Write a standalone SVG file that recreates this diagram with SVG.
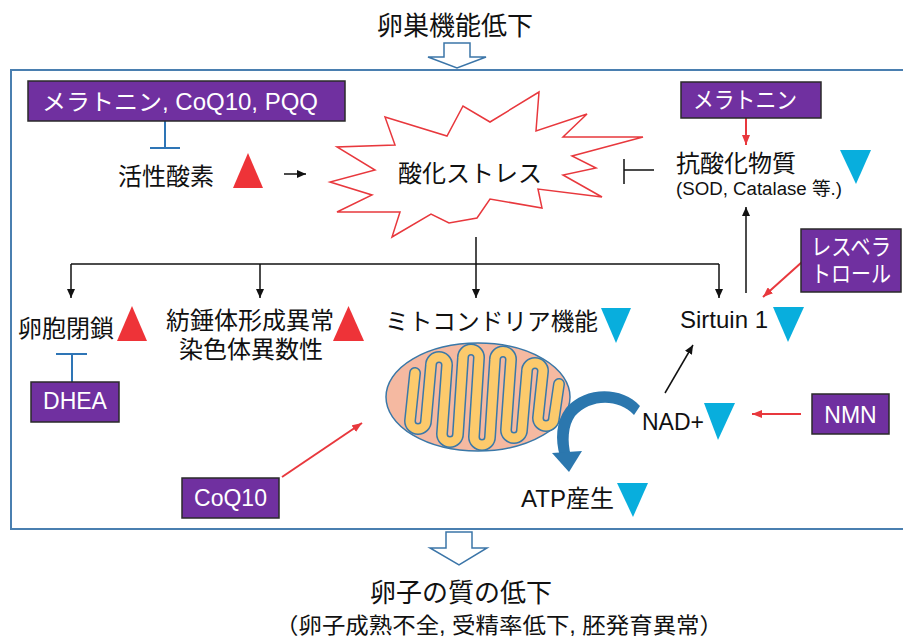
<svg xmlns="http://www.w3.org/2000/svg" width="903" height="639" viewBox="0 0 903 639">
  <style>
    text { font-family: "Liberation Sans", "Noto Sans CJK JP", sans-serif; fill: #111; }
    .jp { font-size: 24px; }
    .title { font-size: 26px; }
    .box { fill: #7030a0; stroke: #2a2a2a; stroke-width: 1.5; }
    .boxtext { fill: #ffffff; font-size: 23px; }
    .up { fill: #ee3338; }
    .down { fill: #08aedd; }
    .blk { stroke: #111; stroke-width: 1.5; fill: none; }
    .red { stroke: #e8383d; stroke-width: 2; fill: none; }
    .inh { stroke: #2e75b6; stroke-width: 2; fill: none; }
    .hollow { fill: #ffffff; stroke: #3b75a8; stroke-width: 1.5; }
    .cristae { fill: none; stroke-linejoin: round; stroke-linecap: round; }
  </style>
  <defs>
    <marker id="ahBlack" markerUnits="userSpaceOnUse" markerWidth="9" markerHeight="8" refX="9" refY="4" orient="auto">
      <path d="M0,0 L9,4 L0,8 z" fill="#111"/>
    </marker>
    <marker id="ahRed" markerUnits="userSpaceOnUse" markerWidth="10" markerHeight="8" refX="10" refY="4" orient="auto">
      <path d="M0,0 L10,4 L0,8 z" fill="#e8383d"/>
    </marker>
    <!-- folded inner membrane of the mitochondrion -->
    <path id="cristaePath" d="M415,373 L410,421 A8,8 0 0 0 426,421 L431,365 A8,8 0 0 1 447,365 L442,434 A8,8 0 0 0 458,434 L463,357.5 A8,8 0 0 1 479,357.5 L474,437 A8,8 0 0 0 490,437 L495,359.5 A8,8 0 0 1 511,359.5 L506,430 A8,8 0 0 0 522,430 L527,371 A8,8 0 0 1 543,371 L538,418 A8,8 0 0 0 554,418 L559,384"/>
  </defs>

  <rect width="903" height="639" fill="#ffffff"/>

  <!-- outer frame -->
  <rect x="11" y="70" width="900" height="459" fill="none" stroke="#4a7fb0" stroke-width="2"/>

  <!-- headline and outcome -->
  <g id="title-top">
    <text class="title" x="455" y="35" text-anchor="middle">卵巣機能低下</text>
    <path class="hollow" d="M444,43 H470 V57 H486 L457,68 L428,57 H444 Z"/>
  </g>
  <g id="title-bottom">
    <path class="hollow" d="M446,532 H472 V548 H487 L459,565 L430,548 H446 Z"/>
    <text class="title" x="461" y="602" text-anchor="middle">卵子の質の低下</text>
    <text x="499" y="633" text-anchor="middle" font-size="22" textLength="448" lengthAdjust="spacingAndGlyphs">（卵子成熟不全, 受精率低下, 胚発育異常）</text>
  </g>

  <!-- connectors -->
  <g id="connectors">
    <!-- antioxidant suppliers inhibit ROS -->
    <path class="inh" d="M165,121 V148 M150,148 H180"/>
    <!-- ROS to oxidative stress -->
    <path class="blk" d="M284,174 H306" marker-end="url(#ahBlack)"/>
    <!-- antioxidants inhibit oxidative stress -->
    <path class="blk" d="M624,159 V184 M624,170 H654"/>
    <!-- melatonin boosts antioxidants -->
    <path class="red" d="M746,118 V145" marker-end="url(#ahRed)"/>
    <!-- oxidative stress branches -->
    <path class="blk" d="M71,264 H719"/>
    <path class="blk" d="M71,264 V298" marker-end="url(#ahBlack)"/>
    <path class="blk" d="M260,264 V298" marker-end="url(#ahBlack)"/>
    <path class="blk" d="M476,237 V298" marker-end="url(#ahBlack)"/>
    <path class="blk" d="M719,264 V298" marker-end="url(#ahBlack)"/>
    <!-- Sirtuin up to antioxidants -->
    <path class="blk" d="M746,293 V207" marker-end="url(#ahBlack)"/>
    <!-- resveratrol to Sirtuin -->
    <path class="red" d="M802,262 L763,297" marker-end="url(#ahRed)"/>
    <!-- DHEA inhibits atresia -->
    <path class="inh" d="M72,382 V354 M56,354 H87"/>
    <!-- CoQ10 to mitochondria -->
    <path class="red" d="M282,477 L362,423" marker-end="url(#ahRed)"/>
    <!-- NAD+ to Sirtuin -->
    <path class="blk" d="M665,393 L693,345" marker-end="url(#ahBlack)"/>
    <!-- NMN to NAD+ -->
    <path class="red" d="M801,414 H752" marker-end="url(#ahRed)"/>
  </g>

  <g id="box-antioxidant-supplements">
    <rect class="box" x="28" y="81" width="317" height="40"/>
    <text class="boxtext" x="42" y="110" font-size="24" textLength="276" lengthAdjust="spacingAndGlyphs">メラトニン, CoQ10, PQQ</text>
  </g>

  <g id="node-ros">
    <text class="jp" x="118" y="185">活性酸素</text>
    <polygon class="up" points="233,188 263,188 248,153"/>
  </g>

  <g id="node-oxidative-stress">
    <polygon fill="#ffffff" stroke="#e8383d" stroke-width="1.5" stroke-linejoin="miter"
      points="385,117 447,136 463,106 490,122 539,92 536,131 587,114 563,137 643,137 572,156 596,168 563,175 602,197 538,189 542,208 490,199 477,218 449,223 431,214 392,237 400,212 337,212 372,195 330,182 375,170 337,147 395,145"/>
    <text class="jp" x="398" y="182">酸化ストレス</text>
  </g>

  <g id="box-melatonin">
    <rect class="box" x="681" y="82" width="140" height="36"/>
    <text class="boxtext" x="693" y="108" font-size="22" textLength="104" lengthAdjust="spacingAndGlyphs">メラトニン</text>
  </g>

  <g id="node-antioxidants">
    <text class="jp" x="676" y="172">抗酸化物質</text>
    <text x="676" y="195" font-size="18" textLength="166" lengthAdjust="spacingAndGlyphs">(SOD, Catalase 等.)</text>
    <polygon class="down" points="840,150 871,150 856,184"/>
  </g>

  <g id="node-atresia">
    <text class="jp" x="18" y="337">卵胞閉鎖</text>
    <polygon class="up" points="117,341 147,341 132,306"/>
  </g>

  <g id="box-dhea">
    <rect class="box" x="31" y="382" width="88" height="40"/>
    <text class="boxtext" x="75" y="409" text-anchor="middle">DHEA</text>
  </g>

  <g id="node-spindle">
    <text class="jp" x="250" y="329" text-anchor="middle">紡錘体形成異常</text>
    <text class="jp" x="251" y="358" text-anchor="middle">染色体異数性</text>
    <polygon class="up" points="333,341 364,341 348.5,306"/>
  </g>

  <g id="node-mitochondria">
    <text class="jp" x="385" y="330" textLength="213" lengthAdjust="spacingAndGlyphs">ミトコンドリア機能</text>
    <polygon class="down" points="601,308 631,308 616,343"/>
    <ellipse cx="478" cy="397" rx="92" ry="54" fill="#f5b9a1" stroke="#3a78a8" stroke-width="1.5"/>
    <use href="#cristaePath" class="cristae" stroke="#3a78a8" stroke-width="12"/>
    <use href="#cristaePath" class="cristae" stroke="#fcca6c" stroke-width="9"/>
  </g>

  <g id="node-atp-flow">
    <path d="M640,406 C622,386 585,386 566,408 C556,421 555,440 560,456 L571,456 C567,441 568,426 575,416 C590,399 618,398 634,415 Z" fill="#2b77ae"/>
    <polygon points="552,453 582,451 569,472" fill="#2b77ae"/>
  </g>

  <g id="node-atp">
    <text class="jp" x="521" y="507">ATP産生</text>
    <polygon class="down" points="617,483 648,483 633,517"/>
  </g>

  <g id="box-coq10">
    <rect class="box" x="182" y="478" width="97" height="40"/>
    <text class="boxtext" x="230.5" y="506" text-anchor="middle">CoQ10</text>
  </g>

  <g id="node-sirtuin">
    <text x="680" y="328" font-size="24">Sirtuin 1</text>
    <polygon class="down" points="773,307 804,307 788,342"/>
  </g>

  <g id="box-resveratrol">
    <rect class="box" x="801" y="229" width="100" height="63"/>
    <text class="boxtext" x="811" y="255" font-size="21" textLength="80" lengthAdjust="spacingAndGlyphs">レスベラ</text>
    <text class="boxtext" x="811" y="282" font-size="21" textLength="80" lengthAdjust="spacingAndGlyphs">トロール</text>
  </g>

  <g id="node-nad">
    <text x="642" y="430" font-size="23">NAD+</text>
    <polygon class="down" points="704,403 735,403 718,440"/>
  </g>

  <g id="box-nmn">
    <rect class="box" x="812" y="394" width="77" height="40"/>
    <text class="boxtext" x="850.5" y="423" text-anchor="middle">NMN</text>
  </g>
</svg>
